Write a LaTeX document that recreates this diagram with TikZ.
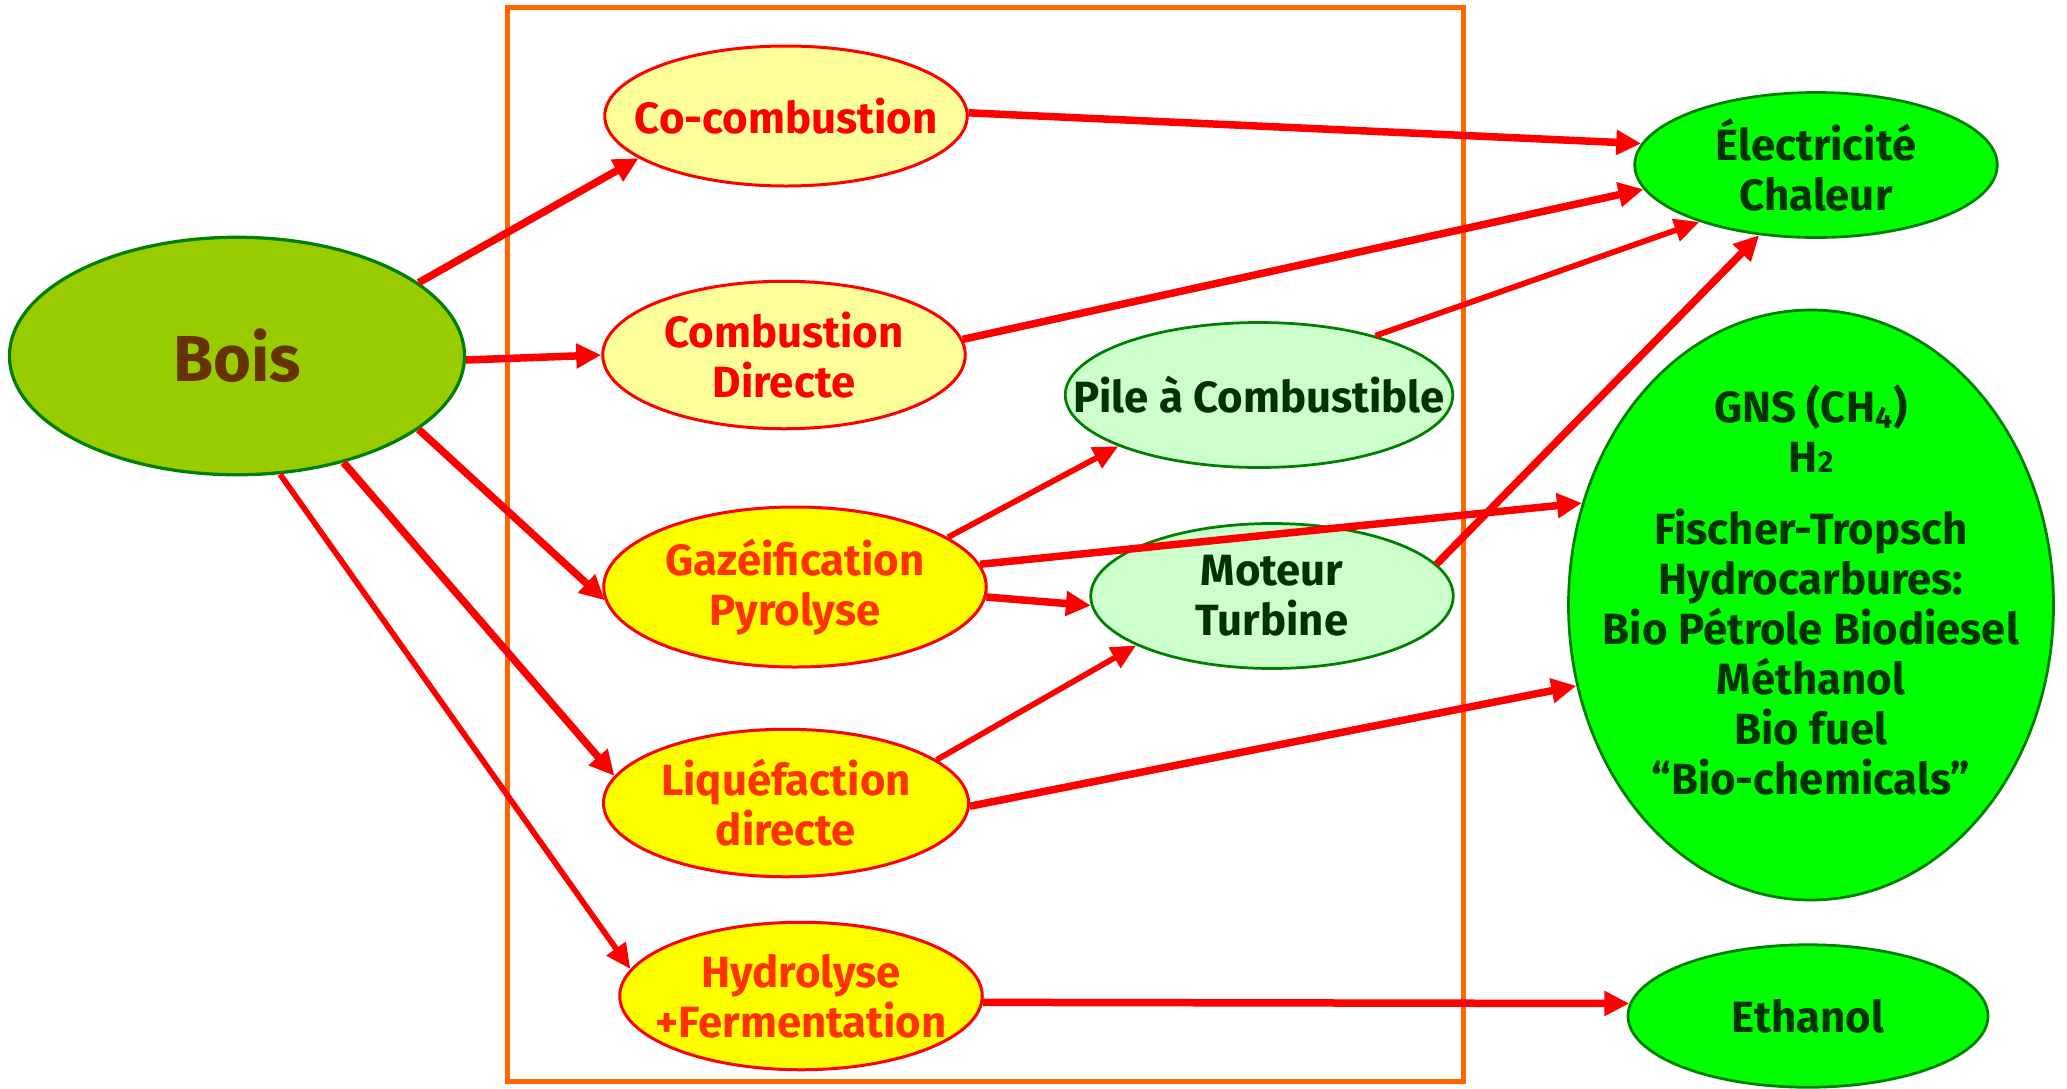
\documentclass[tikz,border=0pt]{standalone}
\usepackage{fontspec}
\setmainfont{Fira Sans}
\usepackage{tikz}
\usetikzlibrary{arrows.meta,shapes.geometric}
\definecolor{BoisFill}{HTML}{99CC00}
\definecolor{BoisText}{HTML}{663300}
\definecolor{VertBord}{HTML}{008000}
\definecolor{JaunePale}{HTML}{FFFF99}
\definecolor{Jaune}{HTML}{FFFF00}
\definecolor{RougeTxt}{HTML}{FF0000}
\definecolor{OrangeTxt}{HTML}{FF3300}
\definecolor{VertPale}{HTML}{CCFFCC}
\definecolor{VertVif}{HTML}{00FF00}
\definecolor{VertTxt}{HTML}{003300}
\definecolor{Cadre}{HTML}{FF6600}

\begin{document}
\begin{tikzpicture}[
  x=0.4pt,y=-0.4pt,
  every node/.style={font=\fontsize{17.5}{20}\selectfont\bfseries,align=center},
  source/.style={ellipse,draw=VertBord,line width=1.3pt,fill=BoisFill,
    inner sep=0pt,minimum width=182pt,minimum height=95pt},
  clair/.style={ellipse,draw=red,line width=1.2pt,fill=JaunePale,
    inner sep=0pt,minimum width=145pt,minimum height=58pt},
  procede/.style={ellipse,draw=red,line width=1.2pt,fill=Jaune,
    inner sep=0pt,minimum width=145pt,minimum height=58pt},
  moyen/.style={ellipse,draw=VertBord,line width=1.1pt,fill=VertPale,
    inner sep=0pt,minimum width=145pt,minimum height=58pt},
  produit/.style={ellipse,draw=VertBord,line width=1.1pt,fill=VertVif,
    inner sep=0pt,minimum width=145pt,minimum height=58pt},
  cadre/.style={draw=Cadre,line width=2pt},
  arr/.style={-{Triangle[length=10pt,width=9.5pt]},line width=3pt,draw=red},
  fin/.style={-{Triangle[length=10pt,width=9pt]},line width=2.3pt,draw=red}
]
  \useasboundingbox (0,0) rectangle (2067,1088);
  \draw[cadre] (507,7) rectangle (1463,1081);

  % matiere premiere
  \node[source,label={[text=BoisText,font=\fontsize{26}{30}\selectfont\bfseries]center:Bois}]
    (bois) at (237,356) {};

  % procedes
  \node[clair,minimum height=56pt,
    label={[text=RougeTxt]center:{Co-combustion}}] (cocomb) at (786,116) {};
  \node[clair,minimum height=59pt,
    label={[text=RougeTxt]center:{Combustion\\Directe}}] (directe) at (784,355) {};
  \node[procede,minimum width=153pt,minimum height=64pt,
    label={[text=OrangeTxt]center:{Gazéification\\Pyrolyse}}] (gazei) at (795,587) {};
  \node[procede,minimum width=146pt,minimum height=59pt,
    label={[text=OrangeTxt]center:{Liquéfaction\\directe}}] (liquef) at (786,803) {};
  \node[procede,minimum height=59pt,
    label={[text=OrangeTxt]center:{Hydrolyse\\+Fermentation}}] (hydro) at (801,996) {};

  % conversion
  \node[moyen,minimum width=155pt,
    label={[text=VertTxt]center:{Pile à Combustible}}] (pile) at (1259,395) {};
  \node[moyen,
    label={[text=VertTxt]center:{Moteur\\Turbine}}] (moteur) at (1272,596) {};

  % produits
  \node[produit,
    label={[text=VertTxt]center:{Électricité\\Chaleur}}] (elec) at (1816,165) {};
  \node[produit,minimum width=194pt,minimum height=236pt,
    label={[text=VertTxt,yshift=6pt]center:{GNS (CH\textsubscript{4})\\
      H{\fontsize{12}{12}\selectfont 2}\\[9pt]
      Fischer-Tropsch\\Hydrocarbures:\\Bio Pétrole Biodiesel\\
      Méthanol\\Bio fuel\\“Bio-chemicals”}}] (gns) at (1811,605) {};
  \node[produit,minimum width=144pt,minimum height=57pt,
    label={[text=VertTxt]center:{Ethanol}}] (ethanol) at (1808,1016) {};

  \draw[arr] (bois.22) -- (cocomb.196);
  \draw[arr] (bois.-1) -- (directe.180);
  \draw[arr] (bois.-22) -- (gazei.184);
  \draw[arr] (bois.-45) -- (liquef.171);
  \draw[fin] (bois.-70) -- (hydro.171);
  \draw[arr] (cocomb.1) -- (elec.173);
  \draw[arr] (directe.5) -- (elec.188);
  \draw[fin] (pile.27) -- (elec.206);
  \draw[arr] (moteur.11) -- (elec.231);
  \draw[fin] (gazei.18) -- (pile.200);
  \draw[arr] (gazei.7) -- (gns.156);
  \draw[arr] (gazei.-3) -- (moteur.183);
  \draw[fin] (liquef.16) -- (moteur.200);
  \draw[arr] (liquef.-1) -- (gns.199);
  \draw[arr] (hydro.-2) -- (ethanol.176);
\end{tikzpicture}
\end{document}
